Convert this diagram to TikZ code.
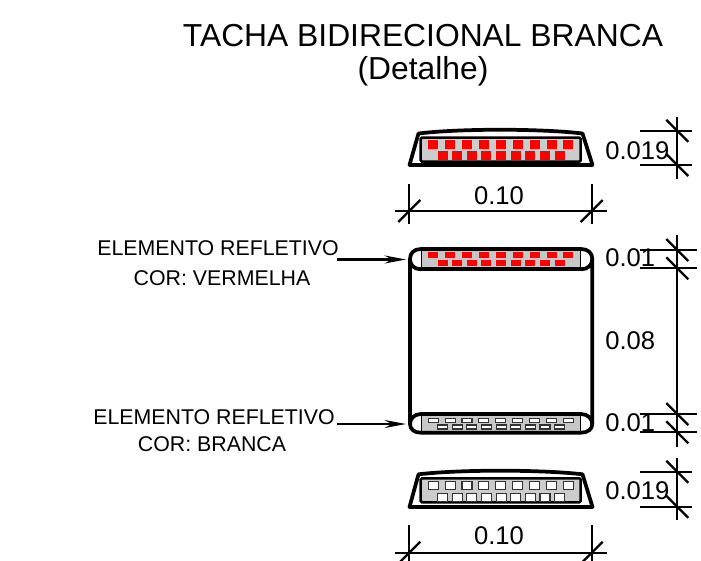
\documentclass[tikz,border=0pt]{standalone}
\usepackage{fontspec}
\setmainfont{Liberation Sans}
\usetikzlibrary{arrows.meta}
\tikzset{
  outline/.style={line width=2.8pt,line join=round,line cap=round},
  dimline/.style={line width=1.7pt},
  inner/.style={draw=black,line width=1.9pt,fill=black!20},
  redsq/.style={fill=red,draw=none},
  whsq/.style={fill=white,draw=black!80,line width=.8pt},
  dimtext/.style={font=\fontsize{19.2pt}{22pt}\selectfont,inner sep=0pt},
  labeltext/.style={font=\fontsize{16pt}{18pt}\selectfont,inner sep=0pt},
  titletext/.style={font=\fontsize{23.85pt}{26pt}\selectfont,inner sep=0pt},
  leader/.style={line width=1.8pt,-{Stealth[length=16pt,width=6pt]}}
}
\newcommand{\dtick}[2]{\draw[dimline] (#1-11,#2-11) -- (#1+11,#2+11);}
\newcommand{\utick}[2]{\draw[dimline] (#1-11,#2+11) -- (#1+11,#2-11);}
\newcommand{\squares}[5]{%
  \foreach \i in {0,...,8} {\path[#1] ({428.2+16.9*\i},#2) rectangle ({438.2+16.9*\i},#2+#3);}
  \foreach \i in {0,...,8} {\path[#1] ({437.6+14.63*\i},#4) rectangle ({447.6+14.63*\i},#4+#5);}
}
\begin{document}
\begin{tikzpicture}[x=0.75pt,y=-0.75pt]
\clip (0,0) rectangle (701,561);
\useasboundingbox (0,0) rectangle (701,561);
\fill[white] (0,0) rectangle (701,561);

\node[titletext] (title1) at (423,36) {TACHA BIDIRECIONAL BRANCA};
\node[titletext] (title2) at (423,71) {(Detalhe)};

% top stud
\draw[outline] (409.5,165) -- (418.5,133.5) .. controls (460,128.5) and (540,128.5) .. (582.5,133.5) -- (592.5,165) -- cycle;
\draw[inner,rounded corners=1pt] (420.7,137.7) rectangle (580.7,161.7);
\squares{redsq}{140}{8.5}{150.7}{9.3}

\draw[dimline] (640,130.7) -- (691.7,130.7);
\draw[dimline] (640,165) -- (691.7,165);
\draw[dimline] (677.3,117) -- (677.3,179);
\dtick{677.3}{130.7}
\dtick{677.3}{165}
\node[dimtext,anchor=base west] (d1) at (605,159.3) {0.019};

\draw[dimline] (395,211) -- (606.7,211);
\draw[dimline] (409.3,184) -- (409.3,224);
\draw[dimline] (591.7,184) -- (591.7,224);
\utick{409.3}{211}
\utick{591.7}{211}
\node[dimtext,anchor=base] (d2) at (499,204.3) {0.10};

% middle body
\fill[black!22] (421,251) rectangle (581,267.5);
\fill[black!22] (421,415.5) rectangle (581,431);
\draw[outline] (421,249) -- (581,249) .. controls (588,249) and (592.3,253) .. (592.3,259) -- (592.3,424) .. controls (592.3,429) and (588,432.7) .. (581,432.7) -- (421,432.7) .. controls (414,432.7) and (410,429) .. (410,424) -- (410,259) .. controls (410,253) and (414,249) .. (421,249) -- cycle;
\draw[outline] (421,269.3) -- (581,269.3);
\draw[outline] (421,414) -- (581,414);
\draw[outline] (421,269.3) .. controls (414,269.3) and (410,265) .. (410,259);
\draw[outline] (581,269.3) .. controls (588,269.3) and (592.3,265) .. (592.3,259);
\draw[outline] (421,414) .. controls (414,414) and (410,419) .. (410,424);
\draw[outline] (581,414) .. controls (588,414) and (592.3,419) .. (592.3,424);
\draw[line width=1.2pt] (421.5,250) -- (421.5,268.5) (580.5,250) -- (580.5,268.5);
\draw[line width=1.2pt] (421.5,415) -- (421.5,431.5) (580.5,415) -- (580.5,431.5);
\squares{redsq}{252}{6}{260}{5.7}
\squares{whsq}{418.3}{4}{425}{4}

\draw[dimline] (640,250) -- (696.7,250);
\draw[dimline] (640,268.3) -- (696.7,268.3);
\draw[dimline] (640,414) -- (696.7,414);
\draw[dimline] (640,432.3) -- (696.7,432.3);
\draw[dimline] (677.3,235) -- (677.3,447);
\dtick{677.3}{250}
\dtick{677.3}{268.3}
\dtick{677.3}{414}
\dtick{677.3}{432.3}
\node[dimtext,anchor=base west] (d3) at (605,266.7) {0.01};
\node[dimtext,anchor=base west] (d4) at (605,349.5) {0.08};
\node[dimtext,anchor=base west] (d5) at (605,431.7) {0.01};

% labels and leaders
\node[labeltext] (l1) at (218,248) {ELEMENTO REFLETIVO};
\node[labeltext] (l2) at (222,278) {COR: VERMELHA};
\node[labeltext] (l3) at (214,417) {ELEMENTO REFLETIVO};
\node[labeltext] (l4) at (212,444) {COR: BRANCA};
\coordinate (a1s) at (337,259.5);
\coordinate (a1e) at (406,259.5);
\coordinate (a2s) at (337,424);
\coordinate (a2e) at (406,424);
\draw[leader] (a1s) -- (a1e);
\draw[leader] (a2s) -- (a2e);

% bottom stud
\draw[outline] (409.5,507) -- (418.5,474.3) .. controls (460,469.5) and (540,469.5) .. (582.5,474.3) -- (592.5,507) -- cycle;
\draw[inner,rounded corners=1pt] (420.7,478.3) rectangle (580.7,502.3);
\squares{whsq}{481.7}{7.6}{493.3}{8}

\draw[dimline] (640,471.7) -- (691.7,471.7);
\draw[dimline] (640,506.7) -- (691.7,506.7);
\draw[dimline] (677.3,458) -- (677.3,520);
\dtick{677.3}{471.7}
\dtick{677.3}{506.7}
\node[dimtext,anchor=base west] (d6) at (605,499.3) {0.019};

\draw[dimline] (395,552.7) -- (606.7,552.7);
\draw[dimline] (409.3,525) -- (409.3,561);
\draw[dimline] (591.7,525) -- (591.7,561);
\utick{409.3}{552.7}
\utick{591.7}{552.7}
\node[dimtext,anchor=base] (d7) at (499,544.3) {0.10};
\end{tikzpicture}
\end{document}
